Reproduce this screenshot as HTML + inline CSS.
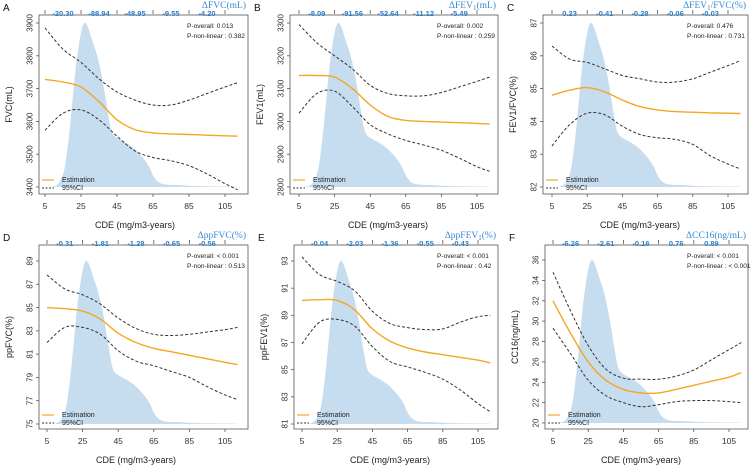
<!DOCTYPE html>
<html><head><meta charset="utf-8"><style>
html,body{margin:0;padding:0;background:#fff;}
svg{display:block;font-family:"Liberation Sans",Arial,sans-serif;}
</style></head><body>
<svg id="chart" width="751" height="467" viewBox="0 0 751 467"></svg>
<script>
const cdePoints=[5,15,25,35,45,55,65,75,85,95,105,112];
const densityX=[7,10,13,16,19,22,25,27,29,31,34,37,40,42,45,50,55,60,63,65,68,72,78,85,95,112];
const densityY=[0,0.005,0.03,0.12,0.38,0.72,0.94,1.0,0.97,0.9,0.8,0.65,0.45,0.34,0.3,0.27,0.23,0.17,0.12,0.07,0.03,0.015,0.012,0.008,0.004,0.002];
const xTicks=[5,25,45,65,85,105];
const topPositions=[15,35,55,75,95];

const estA=[3728,3720,3705,3660,3605,3575,3565,3562,3560,3558,3556,3555];
const upA=[3885,3820,3780,3730,3690,3665,3650,3650,3665,3685,3705,3718];
const loA=[3573,3625,3635,3605,3555,3510,3490,3480,3465,3440,3410,3392];
const topA=["-20.30","-88.94","-48.95","-9.55","-4.20"];

const estB=[3140,3140,3135,3100,3050,3015,3003,3000,2998,2996,2994,2992];
const upB=[3295,3240,3200,3160,3110,3085,3078,3078,3088,3105,3122,3135];
const loB=[3025,3085,3092,3045,2990,2962,2942,2928,2912,2888,2862,2848];
const topB=["-8.09","-91.56","-52.64","-11.12","-5.49"];

const estC=[84.8,84.95,85.03,84.9,84.65,84.45,84.35,84.3,84.28,84.26,84.25,84.24];
const upC=[86.3,85.9,85.8,85.6,85.4,85.3,85.2,85.2,85.3,85.5,85.7,85.85];
const loC=[83.25,83.9,84.25,84.2,83.85,83.6,83.5,83.45,83.3,82.95,82.7,82.55];
const topC=["0.23","-0.41","-0.28","-0.06","-0.03"];

const estD=[85,84.9,84.7,84.0,82.8,82.0,81.5,81.2,80.9,80.6,80.3,80.1];
const upD=[87.8,86.6,86.1,85.3,84.1,83.2,82.7,82.6,82.7,82.9,83.1,83.3];
const loD=[82.0,83.3,83.3,82.7,81.3,80.4,80.0,79.5,79.0,78.2,77.5,77.1];
const topD=["-0.31","-1.81","-1.28","-0.65","-0.56"];

const estE=[90.1,90.15,90.1,89.4,88.0,87.1,86.6,86.3,86.1,85.9,85.7,85.5];
const upE=[93.3,92.0,91.5,90.8,89.3,88.4,88.1,87.95,88.0,88.5,88.9,89.0];
const loE=[86.9,88.5,88.7,88.2,86.7,85.6,85.2,84.8,84.3,83.5,82.5,81.9];
const topE=["-0.04","-2.03","-1.36","-0.55","-0.43"];

const estF=[32,28.8,26,24.2,23.3,22.95,22.95,23.3,23.7,24.1,24.5,24.95];
const upF=[34.8,31,27.6,25.3,24.4,24.3,24.3,24.6,25.2,26.2,27.2,27.9];
const loF=[29.3,26.8,24.2,22.7,22.0,21.6,21.8,22.1,22.2,22.2,22.1,22.0];
const topF=["-6.26","-2.61","-0.16","0.76","0.89"];

const panels=[
 {id:"a",letter:"A",box:[39,15,248,194],x5:45,x105:225,yt:[3400,3500,3600,3700,3800,3900],yb:187,ytp:23,ytitle:"FVC(mL)",dtitle:"ΔFVC(mL)",est:estA,up:upA,lo:loA,top:topA,p1:"P-overall: 0.013",p2:"P-non-linear : 0.382"},
 {id:"b",letter:"B",box:[290,15,498,194],x5:299,x105:477,yt:[2800,2900,3000,3100,3200,3300],yb:187,ytp:23,ytitle:"FEV1(mL)",dtitle:"ΔFEV<tspan font-size='7' dy='2'>1</tspan><tspan dy='-2'>(mL)</tspan>",est:estB,up:upB,lo:loB,top:topB,p1:"P-overall: 0.002",p2:"P-non-linear : 0.259"},
 {id:"c",letter:"C",box:[543,15,748,194],x5:552,x105:728,yt:[82,83,84,85,86,87],yb:187,ytp:23,ytitle:"FEV1/FVC(%)",dtitle:"ΔFEV<tspan font-size='7' dy='2'>1</tspan><tspan dy='-2'>/FVC(%)</tspan>",est:estC,up:upC,lo:loC,top:topC,p1:"P-overall: 0.476",p2:"P-non-linear : 0.731"},
 {id:"d",letter:"D",box:[39,245,248,429],x5:47,x105:225,yt:[75,77,79,81,83,85,87,89],yb:424,ytp:261,ytitle:"ppFVC(%)",dtitle:"ΔppFVC(%)",est:estD,up:upD,lo:loD,top:topD,p1:"P-overall: < 0.001",p2:"P-non-linear : 0.513"},
 {id:"e",letter:"E",box:[294,245,498,429],x5:302,x105:478,yt:[81,83,85,87,89,91,93],yb:424,ytp:261,ytitle:"ppFEV1(%)",dtitle:"ΔppFEV<tspan font-size='7' dy='2'>1</tspan><tspan dy='-2'>(%)</tspan>",est:estE,up:upE,lo:loE,top:topE,p1:"P-overall: < 0.001",p2:"P-non-linear : 0.42"},
 {id:"f",letter:"F",box:[545,245,748,429],x5:553,x105:729,yt:[20,22,24,26,28,30,32,34,36],yb:423,ytp:260,ytitle:"CC16(ng/mL)",dtitle:"ΔCC16(ng/mL)",est:estF,up:upF,lo:loF,top:topF,p1:"P-overall: < 0.001",p2:"P-non-linear : < 0.001"}
];
const NS="http://www.w3.org/2000/svg";
const svg=document.getElementById('chart');
function mk(tag,attrs,parent){const e=document.createElementNS(NS,tag);for(const k in attrs)e.setAttribute(k,attrs[k]);(parent||svg).appendChild(e);return e;}
function smooth(pts){let d="M"+pts[0][0].toFixed(1)+","+pts[0][1].toFixed(1);for(let i=0;i<pts.length-1;i++){const p0=pts[i-1]||pts[i],p1=pts[i],p2=pts[i+1],p3=pts[i+2]||p2;const c1=[p1[0]+(p2[0]-p0[0])/6,p1[1]+(p2[1]-p0[1])/6],c2=[p2[0]-(p3[0]-p1[0])/6,p2[1]-(p3[1]-p1[1])/6];d+=" C"+c1[0].toFixed(1)+","+c1[1].toFixed(1)+" "+c2[0].toFixed(1)+","+c2[1].toFixed(1)+" "+p2[0].toFixed(1)+","+p2[1].toFixed(1);}return d;}
panels.forEach(p=>{
 const g=mk('g',{});
 
 
 const [bl,bt,br,bb]=p.box;
 const ymin=p.yt[0],ymax=p.yt[p.yt.length-1];
 const xs=v=>p.x5+(v-5)*(p.x105-p.x5)/100;
 const ys=v=>p.yb-(v-ymin)*(p.yb-p.ytp)/(ymax-ymin);
 let dpts=densityX.map((x,i)=>[xs(x),p.yb-densityY[i]*(p.yb-p.ytp)]);
 let dd=smooth(dpts)+" L"+xs(densityX[densityX.length-1]).toFixed(1)+","+p.yb+" L"+xs(densityX[0]).toFixed(1)+","+p.yb+" Z";
 const dens=mk('path',{d:dd,fill:'#c6dcef',stroke:'none'},g);
 
 
 const box=mk('rect',{x:bl,y:bt,width:br-bl,height:bb-bt,fill:'none',stroke:'#555','stroke-width':0.8},g);
 
 
 p.yt.forEach(v=>{const y=ys(v);mk('line',{x1:bl-3,x2:bl,y1:y,y2:y,stroke:'#555','stroke-width':0.8},g);
  const t=mk('text',{x:bl-9,y:y,'font-size':8,fill:'#333','text-anchor':'middle',transform:`rotate(-90 ${bl-9} ${y})`,'dominant-baseline':'central'},g);t.textContent=v;
  
  });
 const yt=mk('text',{x:bl-27,y:(bt+bb)/2,'font-size':9,fill:'#222','text-anchor':'middle',transform:`rotate(-90 ${bl-27} ${(bt+bb)/2})`},g);yt.textContent=p.ytitle;
 
 
 xTicks.forEach(v=>{const x=xs(v);mk('line',{x1:x,x2:x,y1:bb,y2:bb+3,stroke:'#555','stroke-width':0.8},g);
  const t=mk('text',{x:x,y:bb+15,'font-size':8.5,fill:'#333','text-anchor':'middle'},g);t.textContent=v;
  
  
  mk('line',{x1:x,x2:x,y1:bt-5,y2:bt-1,stroke:'#555','stroke-width':0.8},g);});
 const xt=mk('text',{x:(p.x5+p.x105)/2,y:bb+34,'font-size':9,fill:'#222','text-anchor':'middle'},g);xt.textContent="CDE (mg/m3-years)";
 
 
 topPositions.forEach((v,i)=>{const t=mk('text',{x:xs(v),y:bt+1,'font-size':7.5,'font-weight':'bold',fill:'#2c7fc7','text-anchor':'middle'},g);t.textContent=p.top[i];
  
  });
 const dt=mk('text',{x:br-2,y:bt-7,'font-size':9.5,fill:'#3a8ad0','text-anchor':'end','font-family':'Liberation Serif,serif'},g);dt.innerHTML=p.dtitle;
 
 
 const L=mk('text',{x:bl-36,y:bt-4,'font-size':10,fill:'#111'},g);L.textContent=p.letter;
 
 
 const up=mk('path',{d:smooth(cdePoints.map((c,i)=>[xs(c),ys(p.up[i])])),fill:'none',stroke:'#333','stroke-width':1,'stroke-dasharray':'3,2'},g);
 
 
 const lo=mk('path',{d:smooth(cdePoints.map((c,i)=>[xs(c),ys(p.lo[i])])),fill:'none',stroke:'#333','stroke-width':1,'stroke-dasharray':'3,2'},g);
 
 
 const es=mk('path',{d:smooth(cdePoints.map((c,i)=>[xs(c),ys(p.est[i])])),fill:'none',stroke:'#f5a623','stroke-width':1.4},g);
 
 
 const t1=mk('text',{x:br-61,y:bt+13,'font-size':6.6,fill:'#222'},g);t1.textContent=p.p1;
 
 
 const t2=mk('text',{x:br-61,y:bt+23,'font-size':6.6,fill:'#222'},g);t2.textContent=p.p2;
 
 
 const lg=mk('g',{},g);
 
 
 mk('line',{x1:bl+3,x2:bl+15,y1:bb-14,y2:bb-14,stroke:'#f5a623','stroke-width':1.2},lg);
 mk('line',{x1:bl+3,x2:bl+15,y1:bb-6,y2:bb-6,stroke:'#333','stroke-width':1,'stroke-dasharray':'2,1.5'},lg);
 const l1=mk('text',{x:bl+23,y:bb-12,'font-size':7,fill:'#222'},lg);l1.textContent="Estimation";
 
 
 const l2=mk('text',{x:bl+23,y:bb-4,'font-size':7,fill:'#222'},lg);l2.textContent="95%CI";
 
 
});
</script>
</body></html>
